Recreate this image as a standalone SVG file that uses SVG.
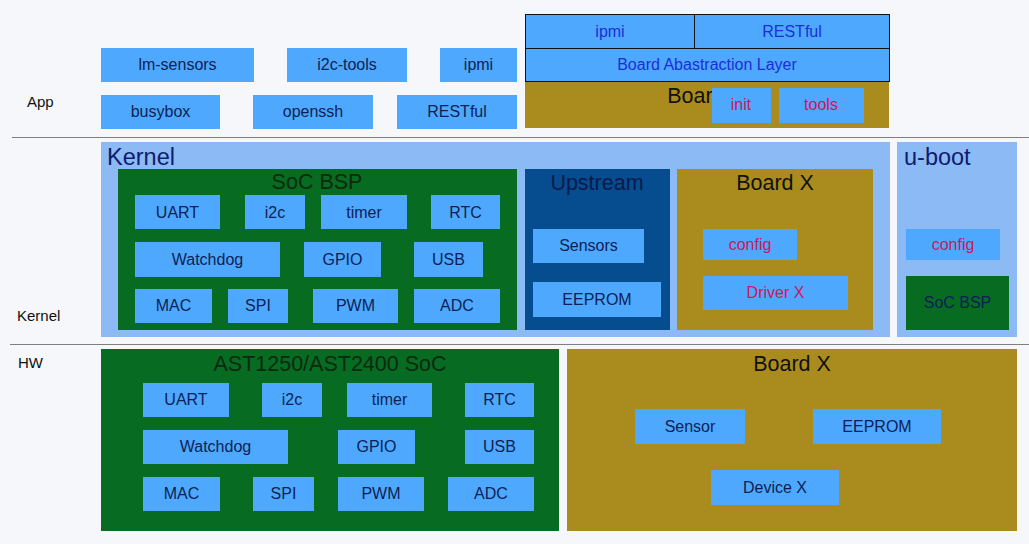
<svg xmlns="http://www.w3.org/2000/svg" width="1029" height="544" viewBox="0 0 1029 544">
<style>
.b{fill:#4ea8fe}
.t{font-family:"Liberation Sans",Arial,sans-serif;font-size:16px;fill:#0c1f55;text-anchor:middle;dominant-baseline:central}
.tb{fill:#1b2fd6}
.tr{fill:#d4145a}
.h{font-family:"Liberation Sans",Arial,sans-serif;font-size:21.5px;text-anchor:middle;dominant-baseline:central}
.k{font-family:"Liberation Sans",Arial,sans-serif;font-size:23.5px;fill:#101c6e}
.lbl{font-family:"Liberation Sans",Arial,sans-serif;font-size:15px;fill:#111}
.olive{fill:#a98c1d}
.green{fill:#076b22}
</style>
<defs>
<clipPath id="boardclip"><rect x="525" y="81" width="187" height="47"/></clipPath>
</defs>
<rect x="0" y="0" width="1029" height="544" fill="#f5f7fa"/>
<g id="separators" stroke="#7f7f7f" stroke-width="1">
<line x1="12" y1="137.5" x2="1029" y2="137.5"/>
<line x1="10" y1="344.5" x2="1029" y2="344.5"/>
</g>
<g id="layer-labels">
<text class="lbl" x="27" y="107">App</text>
<text class="lbl" x="17" y="321">Kernel</text>
<text class="lbl" x="18" y="368">HW</text>
</g>
<g id="app">
<g id="lm-sensors"><rect class="b" x="101" y="48" width="153" height="34"/><text class="t" x="177.5" y="64.5">lm-sensors</text></g>
<g id="i2c-tools"><rect class="b" x="287" y="48" width="120" height="34"/><text class="t" x="347" y="64.5">i2c-tools</text></g>
<g id="app-ipmi"><rect class="b" x="440" y="48" width="77" height="34"/><text class="t" x="478.5" y="64.5">ipmi</text></g>
<g id="busybox"><rect class="b" x="101" y="95" width="119" height="34"/><text class="t" x="160.5" y="111.5">busybox</text></g>
<g id="openssh"><rect class="b" x="253" y="95" width="120" height="34"/><text class="t" x="313" y="111.5">openssh</text></g>
<g id="app-restful"><rect class="b" x="397" y="95" width="120" height="34"/><text class="t" x="457" y="111.5">RESTful</text></g>
</g>
<g id="board-app">
<rect class="olive" x="525" y="81" width="364" height="47"/>
<text class="h" x="706" y="96" fill="#111" clip-path="url(#boardclip)">Board X</text>
<g id="bal-ipmi"><rect class="b" x="525.5" y="14.5" width="169" height="34" stroke="#111" stroke-width="1"/><text class="t tb" x="610" y="31">ipmi</text></g>
<g id="bal-restful"><rect class="b" x="694.5" y="14.5" width="195" height="34" stroke="#111" stroke-width="1"/><text class="t tb" x="792" y="31">RESTful</text></g>
<g id="bal"><rect class="b" x="525.5" y="48.5" width="364" height="33" stroke="#111" stroke-width="1"/><text class="t tb" x="707" y="64.5">Board Abastraction Layer</text></g>
<g id="init"><rect class="b" x="712" y="88" width="59" height="35"/><text class="t tr" x="741" y="104.5">init</text></g>
<g id="tools"><rect class="b" x="779" y="88" width="85" height="35"/><text class="t tr" x="821" y="104.5">tools</text></g>
</g>
<g id="kernel">
<rect x="101" y="142" width="789" height="195" fill="#8bbaf5"/>
<text class="k" x="107" y="165">Kernel</text>
<g id="soc-bsp">
<rect class="green" x="118" y="169" width="399" height="161"/>
<text class="h" x="317" y="182" fill="#0b2a10">SoC BSP</text>
<g><rect class="b" x="135" y="195" width="85" height="34"/><text class="t" x="177.5" y="212">UART</text></g>
<g><rect class="b" x="245" y="195" width="60" height="34"/><text class="t" x="275" y="212">i2c</text></g>
<g><rect class="b" x="321" y="195" width="86" height="34"/><text class="t" x="364" y="212">timer</text></g>
<g><rect class="b" x="431" y="195" width="69" height="34"/><text class="t" x="465.5" y="212">RTC</text></g>
<g><rect class="b" x="135" y="242" width="145" height="35"/><text class="t" x="207.5" y="259">Watchdog</text></g>
<g><rect class="b" x="304" y="242" width="77" height="35"/><text class="t" x="342.5" y="259">GPIO</text></g>
<g><rect class="b" x="414" y="242" width="69" height="35"/><text class="t" x="448.5" y="259">USB</text></g>
<g><rect class="b" x="135" y="289" width="77" height="34"/><text class="t" x="173.5" y="305.5">MAC</text></g>
<g><rect class="b" x="228" y="289" width="60" height="34"/><text class="t" x="258" y="305.5">SPI</text></g>
<g><rect class="b" x="313" y="289" width="85" height="34"/><text class="t" x="355.5" y="305.5">PWM</text></g>
<g><rect class="b" x="414" y="289" width="86" height="34"/><text class="t" x="457" y="305.5">ADC</text></g>
</g>
<g id="upstream">
<rect x="525" y="169" width="145" height="161" fill="#054d8f"/>
<text class="h" x="597" y="183" fill="#0b1a4a">Upstream</text>
<g><rect class="b" x="533" y="229" width="111" height="34"/><text class="t" x="588.5" y="245.5">Sensors</text></g>
<g><rect class="b" x="533" y="282" width="128" height="35"/><text class="t" x="597" y="299">EEPROM</text></g>
</g>
<g id="kernel-board-x">
<rect class="olive" x="677" y="169" width="196" height="161"/>
<text class="h" x="775" y="183" fill="#111">Board X</text>
<g><rect class="b" x="703" y="229" width="94" height="31"/><text class="t tr" x="750" y="244">config</text></g>
<g><rect class="b" x="703" y="276" width="145" height="34"/><text class="t tr" x="775.5" y="292.5">Driver X</text></g>
</g>
</g>
<g id="u-boot">
<rect x="897" y="142" width="120" height="195" fill="#8bbaf5"/>
<text class="k" x="904" y="165">u-boot</text>
<g><rect class="b" x="906" y="229" width="94" height="31"/><text class="t tr" x="953" y="244">config</text></g>
<g><rect class="green" x="906" y="276" width="103" height="54"/><text class="t" x="957.5" y="302" fill="#0b2a10">SoC BSP</text></g>
</g>
<g id="hw-soc">
<rect class="green" x="101" y="349" width="458" height="182"/>
<text class="h" x="330" y="364" fill="#0b2a10">AST1250/AST2400 SoC</text>
<g><rect class="b" x="143" y="383" width="86" height="34"/><text class="t" x="186" y="399.5">UART</text></g>
<g><rect class="b" x="262" y="383" width="60" height="34"/><text class="t" x="292" y="399.5">i2c</text></g>
<g><rect class="b" x="347" y="383" width="85" height="34"/><text class="t" x="389.5" y="399.5">timer</text></g>
<g><rect class="b" x="465" y="383" width="69" height="34"/><text class="t" x="499.5" y="399.5">RTC</text></g>
<g><rect class="b" x="143" y="430" width="145" height="34"/><text class="t" x="215.5" y="446.5">Watchdog</text></g>
<g><rect class="b" x="338" y="430" width="77" height="34"/><text class="t" x="376.5" y="446.5">GPIO</text></g>
<g><rect class="b" x="465" y="430" width="69" height="34"/><text class="t" x="499.5" y="446.5">USB</text></g>
<g><rect class="b" x="143" y="477" width="77" height="34"/><text class="t" x="181.5" y="493.5">MAC</text></g>
<g><rect class="b" x="253" y="477" width="61" height="34"/><text class="t" x="283.5" y="493.5">SPI</text></g>
<g><rect class="b" x="338" y="477" width="86" height="34"/><text class="t" x="381" y="493.5">PWM</text></g>
<g><rect class="b" x="448" y="477" width="86" height="34"/><text class="t" x="491" y="493.5">ADC</text></g>
</g>
<g id="hw-board-x">
<rect class="olive" x="567" y="349" width="450" height="182"/>
<text class="h" x="792" y="364" fill="#111">Board X</text>
<g><rect class="b" x="635" y="409" width="110" height="35"/><text class="t" x="690" y="426">Sensor</text></g>
<g><rect class="b" x="813" y="409" width="128" height="35"/><text class="t" x="877" y="426">EEPROM</text></g>
<g><rect class="b" x="711" y="470" width="128" height="35"/><text class="t" x="775" y="487">Device X</text></g>
</g>
<g id="connectors"/>
</svg>
